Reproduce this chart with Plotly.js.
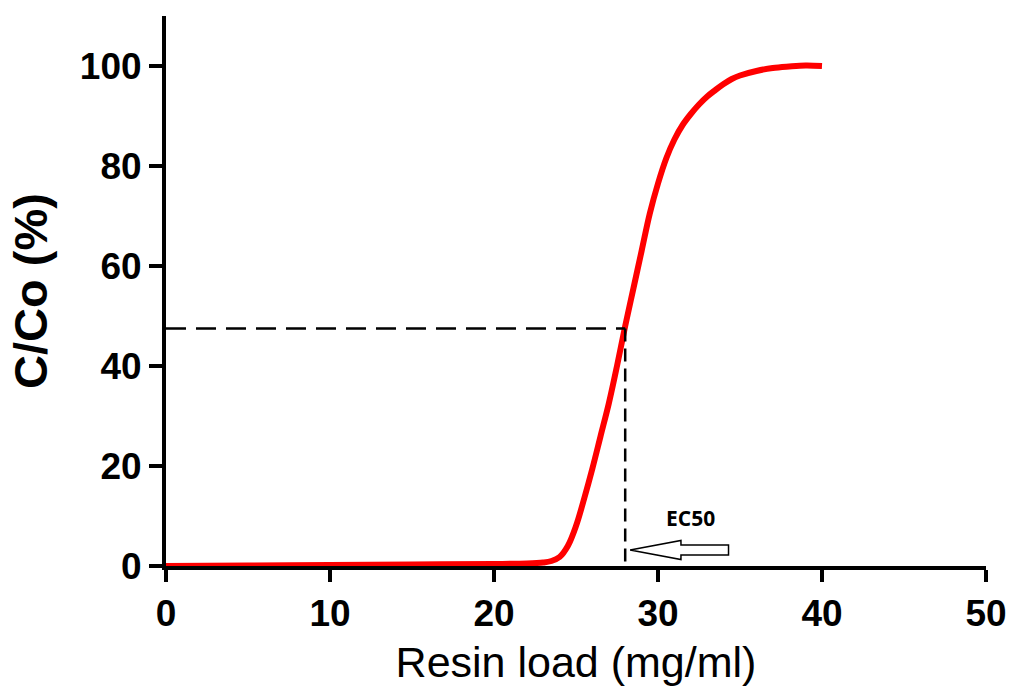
<!DOCTYPE html>
<html>
<head>
<meta charset="utf-8">
<script src="https://cdn.plot.ly/plotly-3.0.1.min.js"></script>
<style>html,body{margin:0;padding:0;background:#fff;}#chart{width:1011px;height:693px;}</style>
</head>
<body>
<div id="chart"></div>
<script>
// Data
const resinLoad = [0, 5, 10, 15, 20, 22, 23, 23.5, 24, 24.5, 25, 25.5, 26, 26.5, 27, 27.5, 28, 28.5, 29, 29.5, 30, 30.5, 31, 31.5, 32, 32.5, 33, 33.5, 34, 34.5, 35, 36, 37, 38, 39, 40];
const ccoPercent = [0, 0.1, 0.2, 0.3, 0.4, 0.5, 0.7, 1.0, 1.8, 4, 8, 13.5, 19.5, 26, 32.5, 40, 48, 55.5, 63, 70.5, 76.5, 81.5, 85.3, 88.2, 90.4, 92.3, 93.9, 95.2, 96.4, 97.4, 98.1, 99.0, 99.6, 99.9, 100.1, 100];
const xTicks = [0, 10, 20, 30, 40, 50];
const yTicks = [0, 20, 40, 60, 80, 100];
const ec50X = 28;
const ec50Y = 47.5;
const ec50Label = "EC50";
// arrow annotation geometry (data units)
const arrowTip = [28.3, 3.2];
const arrowHeadX = 31.4;
const arrowEndX = 34.3;
const arrowHeadHalf = 1.9;
const arrowShaftHalf = 1.0;

const trace = {
  x: resinLoad, y: ccoPercent, type: 'scatter', mode: 'lines',
  line: {color: '#ff0000', width: 6, shape: 'spline', smoothing: 1},
  cliponaxis: false, hoverinfo: 'skip'
};

const ty = arrowTip[1];
const arrowPath = 'M ' + arrowTip[0] + ',' + ty +
  ' L ' + arrowHeadX + ',' + (ty + arrowHeadHalf) +
  ' L ' + arrowHeadX + ',' + (ty + arrowShaftHalf) +
  ' L ' + arrowEndX + ',' + (ty + arrowShaftHalf) +
  ' L ' + arrowEndX + ',' + (ty - arrowShaftHalf) +
  ' L ' + arrowHeadX + ',' + (ty - arrowShaftHalf) +
  ' L ' + arrowHeadX + ',' + (ty - arrowHeadHalf) + ' Z';

const layout = {
  width: 1011, height: 693,
  margin: {l: 166, r: 25, t: 16, b: 127},
  paper_bgcolor: '#fff', plot_bgcolor: '#fff',
  font: {family: 'Liberation Sans, Arial, sans-serif', color: '#000'},
  showlegend: false,
  xaxis: {
    range: [0, 50], tickvals: xTicks, ticktext: xTicks.map(String),
    showline: true, linecolor: '#000', linewidth: 4,
    ticks: 'outside', ticklen: 12, tickwidth: 4, tickcolor: '#000',
    showgrid: false, zeroline: false,
    tickfont: {size: 37, family: 'Liberation Sans, Arial, sans-serif', weight: 'bold'},
    title: {text: 'Resin load (mg/ml)', font: {size: 43}, standoff: 14}
  },
  yaxis: {
    range: [0, 110], tickvals: yTicks, ticktext: yTicks.map(String),
    showline: true, linecolor: '#000', linewidth: 4,
    ticks: 'outside', ticklen: 13, tickwidth: 4, tickcolor: '#000',
    showgrid: false, zeroline: false,
    tickfont: {size: 37, family: 'Liberation Sans, Arial, sans-serif', weight: 'bold'},
    title: {text: 'C/Co (%)', font: {size: 47, weight: 'bold'}, standoff: 18}
  },
  shapes: [
    {type: 'line', xref: 'x', yref: 'y', x0: 0, x1: ec50X, y0: ec50Y, y1: ec50Y,
     line: {color: '#000', width: 2.5, dash: '20px,10px'}},
    {type: 'line', xref: 'x', yref: 'y', x0: ec50X, x1: ec50X, y0: ec50Y, y1: 0,
     line: {color: '#000', width: 2.5, dash: '13px,7px'}},
    {type: 'path', xref: 'x', yref: 'y', path: arrowPath,
     line: {color: '#000', width: 1.5}, fillcolor: '#fff'}
  ],
  annotations: [
    {x: 32.0, y: 9.6, xref: 'x', yref: 'y', text: '<b>' + ec50Label + '</b>', showarrow: false,
     font: {family: 'Open Sans, sans-serif', size: 21, color: '#000'}}
  ]
};

Plotly.newPlot('chart', [trace], layout, {displayModeBar: false, staticPlot: true});
</script>
</body>
</html>
